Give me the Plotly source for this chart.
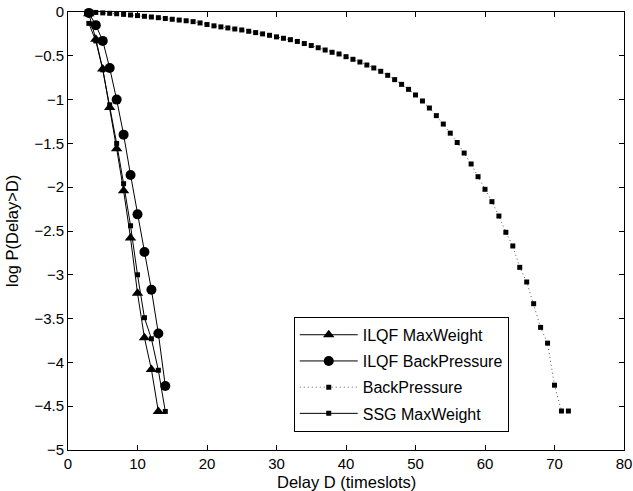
import plotly.graph_objects as go

# ILQF MaxWeight (triangles)
x_ilqf_mw = [3, 4, 5, 6, 7, 8, 9, 10, 11, 12, 13]
y_ilqf_mw = [-0.02, -0.31, -0.65, -1.09, -1.56, -2.04, -2.58, -3.21, -3.72, -4.08, -4.56]

# ILQF BackPressure (circles)
x_ilqf_bp = [3, 4, 5, 6, 7, 8, 9, 10, 11, 12, 13, 14]
y_ilqf_bp = [-0.01, -0.15, -0.33, -0.64, -1.0, -1.40, -1.86, -2.31, -2.74, -3.17, -3.67, -4.27]

# BackPressure (dotted, small squares)
x_bp = list(range(3, 73))
y_bp = [-0.002, -0.005, -0.01, -0.015, -0.02, -0.027, -0.034, -0.041, -0.049, -0.057,
        -0.065, -0.074, -0.083, -0.092, -0.10, -0.11, -0.125, -0.143, -0.158, -0.17,
        -0.182, -0.194, -0.205, -0.22, -0.235, -0.25, -0.266, -0.284, -0.30, -0.316,
        -0.336, -0.36, -0.383, -0.408, -0.434, -0.46, -0.479, -0.51, -0.54, -0.571,
        -0.605, -0.639, -0.677, -0.723, -0.772, -0.826, -0.883, -0.947, -1.016, -1.096,
        -1.183, -1.279, -1.383, -1.49, -1.61, -1.735, -1.88, -2.024, -2.165, -2.329,
        -2.515, -2.671, -2.915, -3.082, -3.33, -3.60, -3.78, -4.26, -4.555, -4.555]

# SSG MaxWeight (small squares)
x_ssg = [3, 4, 5, 6, 7, 8, 9, 10, 11, 12, 13, 14]
y_ssg = [-0.13, -0.33, -0.66, -1.06, -1.50, -1.96, -2.44, -3.0, -3.49, -3.73, -4.09, -4.56]

x_title = "Delay D (timeslots)"
y_title = "log P(Delay>D)"

FONT = "Liberation Sans, Arial, sans-serif"

fig = go.Figure()
fig.add_trace(go.Scatter(x=x_ilqf_mw, y=y_ilqf_mw, name="ILQF MaxWeight", mode="lines+markers",
                         legendgroup="a",
                         line=dict(color="black", width=1),
                         marker=dict(symbol="triangle-up", size=10, color="black"),
                         cliponaxis=False))
fig.add_trace(go.Scatter(x=x_ilqf_bp, y=y_ilqf_bp, name="ILQF BackPressure", mode="lines+markers",
                         legendgroup="b",
                         line=dict(color="black", width=1),
                         marker=dict(symbol="circle", size=10, color="black"),
                         cliponaxis=False))
fig.add_trace(go.Scatter(x=x_bp, y=y_bp, name="BackPressure", mode="lines+markers",
                         legendgroup="c",
                         line=dict(color="#555555", width=1, dash="1px,3px"),
                         marker=dict(symbol="square", size=5, color="black"),
                         cliponaxis=False))
fig.add_trace(go.Scatter(x=x_ssg, y=y_ssg, name="SSG MaxWeight", mode="lines+markers",
                         legendgroup="d",
                         line=dict(color="black", width=1),
                         marker=dict(symbol="square", size=5, color="black"),
                         cliponaxis=False))

axis_common = dict(showline=True, linecolor="black", linewidth=1, mirror="ticks",
                   ticks="inside", ticklen=5, tickcolor="black", tickwidth=1,
                   showgrid=False, zeroline=False, automargin=False,
                   tickfont=dict(family=FONT, size=15, color="black"))

fig.update_xaxes(range=[0, 80], tickvals=[0, 10, 20, 30, 40, 50, 60, 70, 80], **axis_common)
fig.update_yaxes(range=[-5, 0], dtick=0.5, **axis_common)

fig.add_annotation(text=x_title, xref="paper", yref="paper", x=0.5, y=0,
                   xanchor="center", yanchor="middle", yshift=-32, showarrow=False,
                   font=dict(family=FONT, size=16.5, color="black"))
fig.add_annotation(text=y_title, xref="paper", yref="paper", x=0, y=0.5,
                   xanchor="center", yanchor="middle", xshift=-56, textangle=-90,
                   showarrow=False, font=dict(family=FONT, size=16.5, color="black"))

fig.update_layout(
    width=633, height=491,
    margin=dict(l=68, r=9, t=12, b=41),
    paper_bgcolor="white", plot_bgcolor="white",
    font=dict(family=FONT, size=15, color="black"),
    showlegend=True,
    legend=dict(x=0.406, y=0.304, xanchor="left", yanchor="top",
                bgcolor="white", bordercolor="black", borderwidth=1,
                font=dict(family=FONT, size=16, color="black"),
                tracegroupgap=2.4, itemwidth=58),
)

fig.write_html("out.html", config={"displayModeBar": False},
               post_script="document.body.style.margin='0';document.body.style.overflow='hidden';")
